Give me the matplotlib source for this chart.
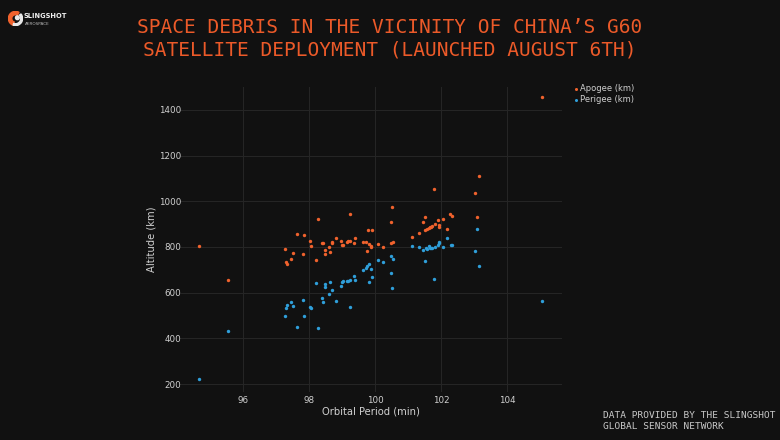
import matplotlib
matplotlib.use("Agg")
import matplotlib.pyplot as plt
from matplotlib.patches import Wedge, Circle

# ---- data ----
apogee_period = [94.66, 95.55, 97.25, 97.28, 97.31, 97.43, 97.51, 97.63, 97.80, 97.84,
                 98.02, 98.04, 98.20, 98.26, 98.38, 98.43, 98.49, 98.48, 98.61, 98.62,
                 98.68, 98.70, 98.81, 98.97, 98.99, 99.03, 99.13, 99.18, 99.23, 99.22,
                 99.36, 99.40, 99.63, 99.71, 99.74, 99.79, 99.82, 99.86, 99.89, 99.88,
                 100.07, 100.24, 100.47, 100.48, 100.53, 100.52, 101.12, 101.33, 101.46, 101.50,
                 101.52, 101.58, 101.62, 101.66, 101.70, 101.73, 101.80, 101.77, 101.90, 101.92,
                 101.94, 102.05, 102.16, 102.27, 102.33, 103.01, 103.09, 103.14, 105.06]
apogee_km = [803, 657, 790, 733, 724, 747, 772, 857, 769, 854,
             828, 803, 744, 923, 819, 816, 788, 771, 800, 778,
             815, 820, 837, 826, 809, 809, 823, 825, 826, 946,
             815, 838, 820, 820, 780, 876, 813, 806, 872, 801,
             812, 801, 911, 818, 822, 974, 845, 859, 907, 930,
             872, 878, 883, 886, 889, 892, 901, 1055, 916, 894,
             886, 924, 880, 943, 935, 1036, 933, 1112, 1456]

perigee_period = [94.66, 95.55, 97.25, 97.28, 97.31, 97.43, 97.51, 97.63, 97.80, 97.84,
                  98.02, 98.05, 98.20, 98.26, 98.38, 98.43, 98.48, 98.49, 98.61, 98.63,
                  98.70, 98.81, 98.96, 98.99, 99.03, 99.13, 99.18, 99.23, 99.22, 99.35,
                  99.40, 99.63, 99.71, 99.75, 99.80, 99.82, 99.87, 99.89, 100.07, 100.24,
                  100.47, 100.47, 100.53, 100.52, 101.12, 101.33, 101.46, 101.50, 101.54, 101.58,
                  101.62, 101.65, 101.69, 101.73, 101.80, 101.77, 101.90, 101.92, 101.94, 102.05,
                  102.16, 102.28, 102.34, 103.01, 103.08, 103.14, 105.06]
perigee_km = [222, 433, 496, 534, 545, 561, 541, 449, 569, 496,
              535, 532, 640, 444, 576, 557, 639, 626, 595, 646,
              613, 564, 630, 648, 649, 651, 652, 657, 535, 673,
              657, 700, 709, 715, 648, 724, 703, 668, 741, 736,
              759, 687, 746, 619, 803, 800, 788, 737, 796, 793,
              803, 797, 796, 794, 800, 661, 809, 823, 815, 801,
              839, 809, 809, 782, 879, 717, 564]

x_ticks = [96, 98, 100, 102, 104]
y_ticks = [200, 400, 600, 800, 1000, 1200, 1400]

title = "SPACE DEBRIS IN THE VICINITY OF CHINA\u2019S G60\nSATELLITE DEPLOYMENT (LAUNCHED AUGUST 6TH)"

BG = "#111111"
ORANGE = "#f0622d"
BLUE = "#2f9fda"
TXT = "#d0d0d0"

W, H = 780, 440
fig = plt.figure(figsize=(W / 100, H / 100), dpi=100, facecolor=BG)
ax = fig.add_axes([180 / W, (H - 392) / H, 382 / W, 305 / H], facecolor=BG)

ax.scatter(apogee_period, apogee_km, s=6, color=ORANGE, linewidths=0, zorder=3, label="Apogee (km)")
ax.scatter(perigee_period, perigee_km, s=6, color=BLUE, linewidths=0, zorder=3, label="Perigee (km)")

ax.set_xlim(94.08, 105.66)
ax.set_ylim(165, 1500)
ax.set_xticks(x_ticks)
ax.set_yticks(y_ticks)
ax.grid(True, color="#262626", linewidth=0.7, zorder=0)
for s in ax.spines.values():
    s.set_visible(False)
ax.tick_params(axis="y", length=0, colors=TXT, labelsize=6.3, pad=-1)
ax.tick_params(axis="x", length=0, colors=TXT, labelsize=6.3, pad=3)
ax.set_xlabel("Orbital Period (min)", color=TXT, fontsize=7.2, labelpad=1)
ax.set_ylabel("Altitude (km)", color=TXT, fontsize=7.2, labelpad=2)

leg = fig.legend(loc="upper left", bbox_to_anchor=(568 / W, 1 - 81 / H), frameon=False,
                 fontsize=6.0, labelcolor=TXT, handletextpad=0.1, markerscale=0.9,
                 borderaxespad=0, labelspacing=0.25, handlelength=1.0)

fig.text(0.5, 1 - 39 / H, title, ha="center", va="center", color="#ec5a29",
         fontsize=14.0, linespacing=1.25, family="DejaVu Sans Mono")

# logo
lax = fig.add_axes([8 / W, 1 - 26 / H, 15 / W, 15 / H], facecolor="none")
lax.set_xlim(-1, 1); lax.set_ylim(-1, 1); lax.set_aspect("equal"); lax.axis("off")
lax.add_patch(Wedge((0, 0), 0.95, 60, 250, width=0.45, color=ORANGE))
lax.add_patch(Wedge((0, 0), 0.95, 250, 400, width=0.25, color="#e8e8e8"))
lax.add_patch(Circle((0.25, 0.1), 0.25, color="#e8e8e8"))
fig.text(24 / W, 1 - 16 / H, "SLINGSHOT", color="#f0f0f0", fontsize=4.8, fontweight="bold", va="center")
fig.text(25 / W, 1 - 24 / H, "AEROSPACE", color="#bbbbbb", fontsize=3.0, va="center")

fig.text(603 / W, 1 - 421 / H, "DATA PROVIDED BY THE SLINGSHOT\nGLOBAL SENSOR NETWORK",
         color="#c8c8c8", fontsize=6.8, ha="left", va="center", linespacing=1.25,
         family="DejaVu Sans Mono")

fig.savefig("out.png", dpi=100, facecolor=BG)
